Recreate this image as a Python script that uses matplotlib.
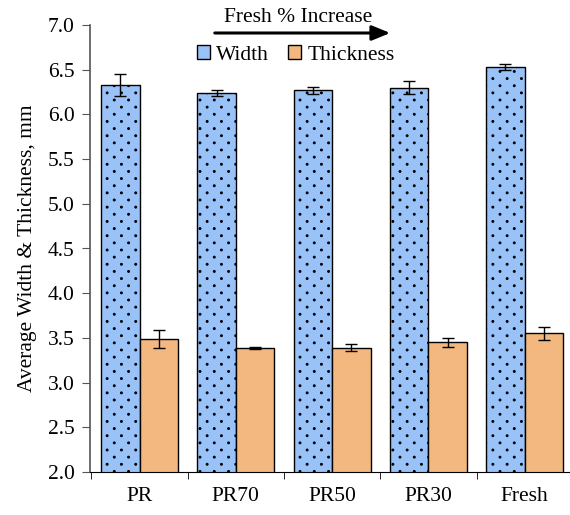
import matplotlib
matplotlib.use("Agg")
import matplotlib.pyplot as plt
import matplotlib.hatch as mhatch
from matplotlib.path import Path
import numpy as np
from matplotlib.patches import Patch

categories = ["PR", "PR70", "PR50", "PR30", "Fresh"]
width_vals = [6.33, 6.24, 6.27, 6.30, 6.53]
width_err = [0.12, 0.03, 0.04, 0.07, 0.03]
thick_vals = [3.49, 3.39, 3.39, 3.45, 3.55]
thick_err = [0.10, 0.01, 0.04, 0.05, 0.07]
yticks = [2.0, 2.5, 3.0, 3.5, 4.0, 4.5, 5.0, 5.5, 6.0, 6.5, 7.0]


# sparser staggered dot texture for the '.' hatch
class StaggerDots(mhatch.HatchPatternBase):
    ncols, nrows, radius = 7, 14, 0.009

    def __init__(self, hatch, density):
        circ = Path.unit_circle()
        self.sv, self.sc = circ.vertices, circ.codes
        pts = []
        if hatch.count('.') > 0:
            for r in range(self.nrows + 1):
                y = r / self.nrows
                if r % 2 == 0:
                    xs = np.arange(self.ncols + 1) / self.ncols
                else:
                    xs = (np.arange(self.ncols) + 0.5) / self.ncols
                pts.extend((xx, y) for xx in xs)
        self.pts = pts
        self.num_vertices = len(pts) * len(self.sv)

    def set_vertices_and_codes(self, vertices, codes):
        k = len(self.sv)
        for i, (px, py) in enumerate(self.pts):
            vertices[i*k:(i+1)*k] = self.sv * self.radius + (px, py)
            codes[i*k:(i+1)*k] = self.sc


mhatch._hatch_types = [StaggerDots if t is mhatch.SmallFilledCircles else t
                       for t in mhatch._hatch_types]

plt.rcParams['font.family'] = ['Liberation Serif', 'DejaVu Serif']
plt.rcParams['hatch.linewidth'] = 0.8
plt.rcParams['hatch.color'] = 'black'

blue = '#99C2F8'
orange = '#F2B880'
FS = 15.5

fig = plt.figure(figsize=(5.7, 5.15), dpi=100)
ax = fig.add_axes([90/570, 43/515, 480/570, 447/515])

x = np.arange(len(categories))
bw = 0.4
ax.bar(x - bw/2, width_vals, bw, color=blue, edgecolor='black',
       linewidth=1.0, hatch='.', zorder=2)
ax.bar(x + bw/2, thick_vals, bw, color=orange, edgecolor='black',
       linewidth=1.0, zorder=2)
ax.errorbar(x - bw/2, width_vals, yerr=width_err, fmt='none', ecolor='black',
            elinewidth=1, capsize=4.5, capthick=1, zorder=3)
ax.errorbar(x + bw/2, thick_vals, yerr=thick_err, fmt='none', ecolor='black',
            elinewidth=1, capsize=4.5, capthick=1, zorder=3)

ax.set_ylim(2.0, 7.0)
ax.set_yticks(yticks)
ax.set_yticklabels([f"{v:.1f}" for v in yticks], fontsize=FS)
ax.set_xlim(-0.514, 4.47)
ax.set_xticks(x)
ax.set_xticklabels(categories, fontsize=FS)
ax.tick_params(axis='x', length=0, pad=11)
ax.set_xticks([-0.5, 0.5, 1.5, 2.5, 3.5], minor=True)
ax.tick_params(axis='x', which='minor', length=5, direction='out', color='black')
ax.tick_params(axis='y', length=6, direction='out', color='#555555', pad=5)
ax.set_ylabel("Average Width & Thickness, mm", fontsize=FS, labelpad=8)

for s in ['top', 'right']:
    ax.spines[s].set_visible(False)
ax.spines['left'].set_color('#555555')
ax.spines['left'].set_linewidth(1.2)
ax.spines['bottom'].set_color('black')

# arrow & title
ax.annotate("", xy=(393, 515-33), xytext=(212, 515-33), xycoords='figure pixels',
            textcoords='figure pixels',
            arrowprops=dict(arrowstyle='-|>,head_length=1.1,head_width=0.45', color='black', lw=2.2))
fig.text(298/570, 1 - 17/515, "Fresh % Increase", ha='center', va='center', fontsize=FS)

handles = [Patch(facecolor=blue, edgecolor='black', linewidth=1),
           Patch(facecolor=orange, edgecolor='black', linewidth=1)]
leg = fig.legend(handles, ["Width", "Thickness"], loc='center', bbox_to_anchor=(296/570, 1 - 55/515),
                 ncol=2, frameon=False, fontsize=FS, handlelength=0.6, handleheight=0.6,
                 handletextpad=0.3, columnspacing=0.9, borderpad=0)

fig.savefig("out.png", dpi=100)
